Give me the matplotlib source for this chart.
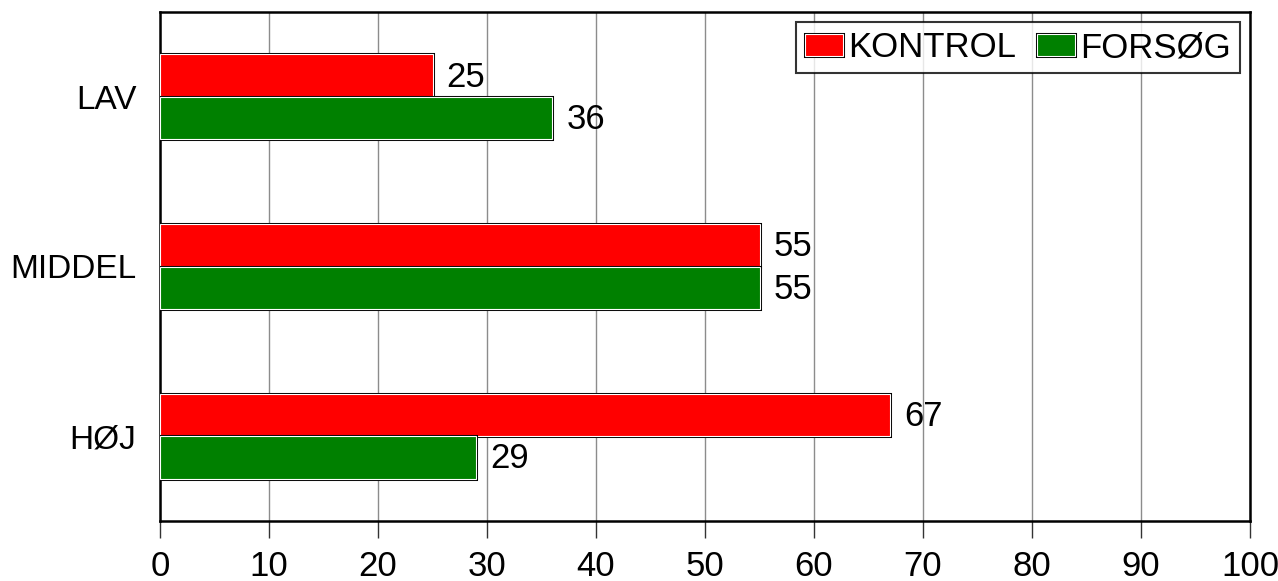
import matplotlib
matplotlib.use("Agg")
import matplotlib.pyplot as plt
import matplotlib.patheffects as pe
import numpy as np

categories = ["LAV", "MIDDEL", "HØJ"]
series_names = ["KONTROL", "FORSØG"]
kontrol = [25, 55, 67]
forsog = [36, 55, 29]
xticks = list(range(0, 101, 10))

plt.rcParams['font.family'] = ['Liberation Sans', 'DejaVu Sans']

fig = plt.figure(figsize=(12.78, 5.81), dpi=100)
ax = fig.add_axes([160/1278, 1 - 521/581, 1090/1278, 509/581])

y = np.arange(len(categories))
h = 0.25
effects = [pe.SimplePatchShadow(offset=(1.5, -1.5), shadow_rgbFace='black', alpha=1.0),
           pe.Stroke(linewidth=2.2, foreground='black'),
           pe.Normal()]
b1 = ax.barh(y - h/2, kontrol, height=h, color='#ff0000', edgecolor='white',
             linewidth=0.8, label=series_names[0], zorder=3)
b2 = ax.barh(y + h/2, forsog, height=h, color='#008000', edgecolor='white',
             linewidth=0.8, label=series_names[1], zorder=3)
for bars in (b1, b2):
    for p in bars:
        p.set_path_effects(effects)

fs = 25
for bars, vals in ((b1, kontrol), (b2, forsog)):
    for p, v in zip(bars, vals):
        ax.annotate(str(v), (v, p.get_y() + p.get_height()/2), xytext=(10, -1),
                    textcoords='offset points', ha='left', va='center', fontsize=fs)

ax.set_xlim(0, 100)
ax.set_ylim(2.5, -0.5)
ax.set_xticks(xticks)
ax.set_xticklabels([str(t) for t in xticks], fontsize=fs)
ax.set_yticks(y)
ax.set_yticklabels(categories, fontsize=24)
ax.tick_params(axis='y', length=0, pad=17)
ax.tick_params(axis='x', direction='out', length=12, width=1, pad=9, color='#333333')
ax.xaxis.grid(True, color='#8c8c8c', linewidth=1, zorder=0)
ax.set_axisbelow(True)
for s in ax.spines.values():
    s.set_linewidth(1.8)
    s.set_color('black')

leg = ax.legend(loc='upper right', ncol=2, fontsize=fs, frameon=True, fancybox=False,
                edgecolor='black', borderpad=0.25, handlelength=1.1, handleheight=0.6,
                handletextpad=0.15, columnspacing=0.6, borderaxespad=0.3)
leg.get_frame().set_linewidth(1.5)
for hd in leg.legend_handles:
    hd.set_path_effects(effects)

fig.savefig("out.png", dpi=100)
